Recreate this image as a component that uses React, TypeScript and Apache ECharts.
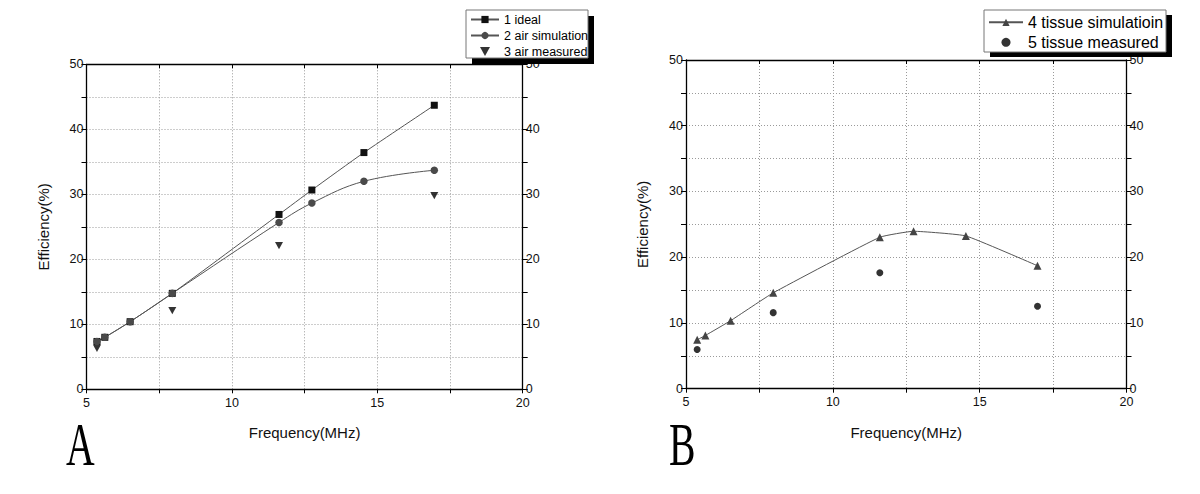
import React, { useEffect, useRef } from "react";
import * as echarts from "echarts";

// Panel A data
const freqA = [5.36, 5.63, 6.5, 7.95, 11.62, 12.75, 14.54, 16.96];
const ideal = [7.36, 8.0, 10.4, 14.76, 26.9, 30.66, 36.42, 43.7];
const airSim = [7.36, 8.0, 10.4, 14.76, 25.67, 28.65, 32.0, 33.7];
const airMeasFreq = [5.36, 7.95, 11.62, 16.96];
const airMeas = [6.3, 12.1, 22.1, 29.8];

// Panel B data
const freqB = [5.38, 5.66, 6.52, 7.97, 11.6, 12.75, 14.53, 16.97];
const tissueSim = [7.44, 8.1, 10.35, 14.58, 23.04, 23.95, 23.24, 18.7];
const tissueMeasFreq = [5.38, 7.97, 11.6, 16.97];
const tissueMeas = [5.96, 11.57, 17.63, 12.54];

const xTicks = { min: 5, max: 20, interval: 2.5 };
const yTicks = { min: 0, max: 50, interval: 5 };

const zip = (xs: number[], ys: number[]) => xs.map((x, i) => [x, ys[i]]);

const FONT = "Liberation Sans";
const GRID_LINE = { type: [1, 2], color: "#9a9a9a", width: 1 };
const DOWN_TRIANGLE = "path://M0,0L10,0L5,9Z";

function bottomX(gridIndex: number) {
  return {
    gridIndex,
    type: "value",
    position: "bottom",
    ...xTicks,
    axisLine: { show: true, onZero: false, lineStyle: { color: "#000", width: 1.3 } },
    axisTick: { show: true, inside: false, length: 4, lineStyle: { color: "#000" } },
    axisLabel: {
      formatter: (v: number) => (v % 5 === 0 ? String(v) : ""),
      color: "#111",
      fontSize: 12.5,
      margin: 7,
      fontFamily: FONT,
    },
    splitLine: { show: true, lineStyle: GRID_LINE },
    name: "Frequency(MHz)",
    nameLocation: "middle",
    nameGap: 36,
    nameTextStyle: { fontSize: 15, color: "#111", fontFamily: FONT },
  };
}

function topX(gridIndex: number) {
  return {
    gridIndex,
    type: "value",
    position: "top",
    ...xTicks,
    axisLine: { show: true, onZero: false, lineStyle: { color: "#000", width: 1.3 } },
    axisTick: { show: true, inside: true, length: 4, lineStyle: { color: "#000" } },
    axisLabel: { show: false },
    splitLine: { show: false },
  };
}

function leftY(gridIndex: number) {
  return {
    gridIndex,
    type: "value",
    position: "left",
    ...yTicks,
    axisLine: { show: true, onZero: false, lineStyle: { color: "#000", width: 1.3 } },
    axisTick: { show: true, inside: false, length: 5, lineStyle: { color: "#000" } },
    axisLabel: {
      formatter: (v: number) => (v % 10 === 0 ? String(v) : ""),
      color: "#111",
      fontSize: 12.5,
      margin: 3,
      fontFamily: FONT,
    },
    splitLine: { show: true, lineStyle: GRID_LINE },
    name: "Efficiency(%)",
    nameLocation: "middle",
    nameRotate: 90,
    nameGap: 36,
    nameTextStyle: { fontSize: 15, color: "#111", fontFamily: FONT },
  };
}

function rightY(gridIndex: number) {
  return {
    gridIndex,
    type: "value",
    position: "right",
    ...yTicks,
    axisLine: { show: true, onZero: false, lineStyle: { color: "#000", width: 1.3 } },
    axisTick: { show: true, inside: false, length: 5, lineStyle: { color: "#000" } },
    axisLabel: {
      formatter: (v: number) => (v % 10 === 0 ? String(v) : ""),
      color: "#111",
      fontSize: 12.5,
      margin: 3,
      fontFamily: FONT,
    },
    splitLine: { show: false },
  };
}

export default function App() {
  const ref = useRef<HTMLDivElement>(null);

  useEffect(() => {
    if (!ref.current) return;
    const chart = echarts.init(ref.current, null, { renderer: "svg" });
    const option: any = {
      animation: false,
      backgroundColor: "#fff",
      textStyle: { fontFamily: FONT },
      grid: [
        { left: 86.5, top: 64.3, width: 436.2, height: 325, containLabel: false, outerBoundsMode: "none" },
        { left: 686, top: 60, width: 440.5, height: 328.7, containLabel: false, outerBoundsMode: "none" },
      ],
      xAxis: [bottomX(0), topX(0), bottomX(1), topX(1)],
      yAxis: [leftY(0), rightY(0), leftY(1), rightY(1)],
      legend: [
        {
          orient: "vertical",
          left: 470,
          top: 13,
          padding: 0,
          itemWidth: 28,
          itemHeight: 9,
          itemGap: 3,
          selectedMode: false,
          symbolKeepAspect: true,
          z: 20,
          textStyle: { fontSize: 12.5, color: "#000", fontFamily: FONT },
          data: [
            "1 ideal",
            "2 air simulation",
            { name: "3 air measured", icon: DOWN_TRIANGLE, symbolRotate: 0 },
          ],
        },
        {
          orient: "vertical",
          left: 988,
          top: 14.3,
          padding: 0,
          itemWidth: 34,
          itemHeight: 9,
          itemGap: 4,
          selectedMode: false,
          symbolKeepAspect: true,
          z: 20,
          textStyle: { fontSize: 16, color: "#000", fontFamily: FONT },
          data: ["4 tissue simulatioin", "5 tissue measured"],
        },
      ],
      graphic: [
        { type: "rect", z: 15, shape: { x: 472, y: 16, width: 122, height: 48 }, style: { fill: "#000" } },
        { type: "rect", z: 16, shape: { x: 466, y: 10, width: 122, height: 48 }, style: { fill: "#fff", stroke: "#777", lineWidth: 1 } },
        { type: "rect", z: 15, shape: { x: 990, y: 15, width: 182, height: 42 }, style: { fill: "#000" } },
        { type: "rect", z: 16, shape: { x: 984, y: 10, width: 182, height: 42 }, style: { fill: "#fff", stroke: "#777", lineWidth: 1 } },
        {
          type: "text",
          x: 66,
          y: 444,
          scaleX: 0.64,
          style: { text: "A", fontSize: 62, fontFamily: "Liberation Serif", fill: "#000", textAlign: "left", verticalAlign: "middle" },
        },
        {
          type: "text",
          x: 669,
          y: 444,
          scaleX: 0.64,
          style: { text: "B", fontSize: 62, fontFamily: "Liberation Serif", fill: "#000", textAlign: "left", verticalAlign: "middle" },
        },
      ],
      series: [
        {
          name: "1 ideal",
          type: "line",
          xAxisIndex: 0,
          yAxisIndex: 0,
          data: zip(freqA, ideal),
          smooth: 0.2,
          symbol: "rect",
          symbolSize: 7,
          itemStyle: { color: "#111" },
          lineStyle: { color: "#555", width: 1 },
        },
        {
          name: "2 air simulation",
          type: "line",
          xAxisIndex: 0,
          yAxisIndex: 0,
          data: zip(freqA, airSim),
          smooth: 0.4,
          symbol: "circle",
          symbolSize: 7.5,
          itemStyle: { color: "#4a4a4a" },
          lineStyle: { color: "#555", width: 1 },
        },
        {
          name: "3 air measured",
          type: "scatter",
          xAxisIndex: 0,
          yAxisIndex: 0,
          data: zip(airMeasFreq, airMeas),
          symbol: DOWN_TRIANGLE,
          symbolKeepAspect: true,
          symbolSize: 8,
          itemStyle: { color: "#000" },
        },
        {
          name: "4 tissue simulatioin",
          type: "line",
          xAxisIndex: 2,
          yAxisIndex: 2,
          data: zip(freqB, tissueSim),
          smooth: 0.12,
          symbol: "triangle",
          symbolSize: 8,
          itemStyle: { color: "#444" },
          lineStyle: { color: "#555", width: 1 },
        },
        {
          name: "5 tissue measured",
          type: "scatter",
          xAxisIndex: 2,
          yAxisIndex: 2,
          data: zip(tissueMeasFreq, tissueMeas),
          symbol: "circle",
          symbolSize: 7,
          itemStyle: { color: "#000" },
        },
      ],
    };
    chart.setOption(option);
    return () => chart.dispose();
  }, []);

  return (
    <div
      ref={ref}
      style={{ position: "absolute", left: 0, top: 0, width: 1200, height: 494, background: "#fff" }}
    />
  );
}
